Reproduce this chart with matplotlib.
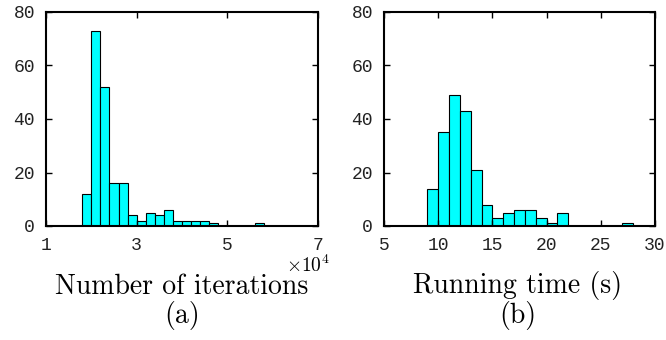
import numpy as np
import matplotlib.pyplot as plt

# (a) number of iterations, bins of 0.2 (x10^4) starting at 1.8
iter_edges_start = 1.8
iter_width = 0.2
iter_counts = [12, 73, 52, 16, 16, 4, 2, 5, 4, 6, 2, 2, 2, 2, 1,
               0, 0, 0, 0, 1]

# (b) running time, bins of 1 s starting at 9
time_edges_start = 9
time_width = 1
time_counts = [14, 35, 49, 43, 21, 8, 3, 5, 6, 6, 3, 1, 5,
               0, 0, 0, 0, 0, 1]

FACE = '#00FFFF'
TICK_FONT = 'Liberation Mono'
LABEL_FONT = 'cmr10'

fig = plt.figure(figsize=(6.66, 3.4), dpi=100)
W, H = 666, 340


def make_ax(x0, x1, y0, y1):
    return fig.add_axes([x0 / W, 1 - y1 / H, (x1 - x0) / W, (y1 - y0) / H])


def style(ax, xlim, xticks):
    ax.set_xlim(*xlim)
    ax.set_ylim(0, 80)
    ax.set_xticks(xticks)
    ax.set_yticks([0, 20, 40, 60, 80])
    ax.tick_params(direction='in', top=True, right=True, length=4, width=1,
                   labelsize=13, pad=8, colors='black', labelcolor='#222222')
    for lab in ax.get_xticklabels() + ax.get_yticklabels():
        lab.set_fontfamily(TICK_FONT)
    for s in ax.spines.values():
        s.set_linewidth(1.5)


ax1 = make_ax(46, 318, 12, 226)
left = iter_edges_start + iter_width * np.arange(len(iter_counts))
ax1.bar(left, iter_counts, width=iter_width, align='edge', color=FACE,
        edgecolor='black', linewidth=0.8)
style(ax1, (1, 7), [1, 3, 5, 7])
fig.text(308 / W, 1 - 265 / H, r'$\times 10^4$', fontsize=14, ha='center',
         va='center', math_fontfamily='cm')
fig.text(182 / W, 1 - 287 / H, 'Number of iterations', fontsize=20,
         fontfamily=LABEL_FONT, ha='center', va='center')
fig.text(182 / W, 1 - 316 / H, '(a)', fontsize=20,
         fontfamily=LABEL_FONT, ha='center', va='center')

ax2 = make_ax(384, 655, 12, 226)
left = time_edges_start + time_width * np.arange(len(time_counts))
ax2.bar(left, time_counts, width=time_width, align='edge', color=FACE,
        edgecolor='black', linewidth=0.8)
style(ax2, (5, 30), [5, 10, 15, 20, 25, 30])
fig.text(518 / W, 1 - 285 / H, 'Running time (s)', fontsize=20,
         fontfamily=LABEL_FONT, ha='center', va='center')
fig.text(518 / W, 1 - 316 / H, '(b)', fontsize=20,
         fontfamily=LABEL_FONT, ha='center', va='center')

fig.savefig('out.png', dpi=100)
